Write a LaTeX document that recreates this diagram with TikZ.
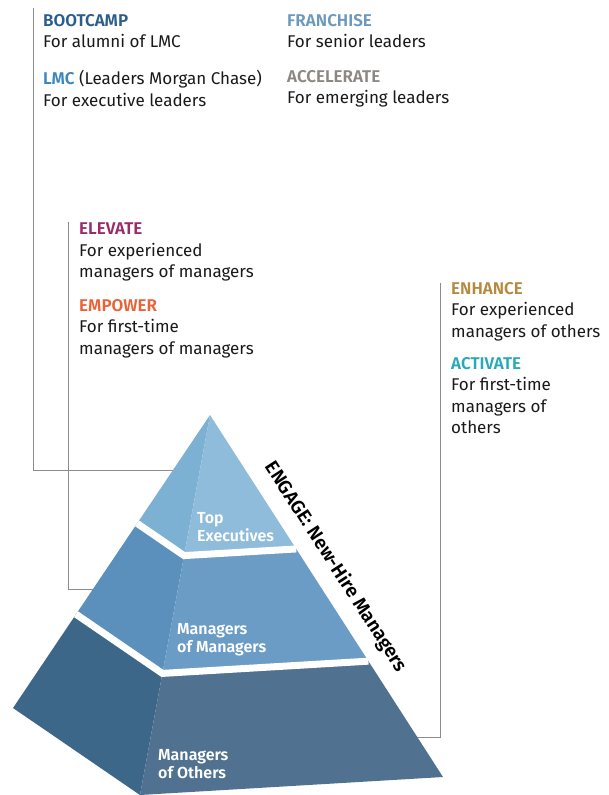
\documentclass[tikz,border=0pt]{standalone}
\usepackage{fontspec}
\setmainfont{Fira Sans}[BoldFont={Fira Sans SemiBold}]
\usepackage{tikz}
\usetikzlibrary{positioning}
\usetikzlibrary{calc}

\definecolor{bootblue}{HTML}{2A5D8C}
\definecolor{lmcblue}{HTML}{3A86BE}
\definecolor{franblue}{HTML}{6B98BC}
\definecolor{accgray}{HTML}{8C8781}
\definecolor{elevred}{HTML}{9C2A67}
\definecolor{emporange}{HTML}{EA6237}
\definecolor{enhgold}{HTML}{B5893F}
\definecolor{actteal}{HTML}{27A9B7}
\definecolor{topleft}{HTML}{7DB1D3}
\definecolor{topfront}{HTML}{8EBCDA}
\definecolor{midleft}{HTML}{5A90BB}
\definecolor{midfront}{HTML}{6A9CC6}
\definecolor{lowleft}{HTML}{3D6789}
\definecolor{lowfront}{HTML}{50718F}

\tikzset{block/.style={anchor=north west,inner sep=0pt,align=left,text=black!90,font=\fontsize{17}{21.5}\selectfont}}
\tikzset{tier/.style={anchor=north west,inner sep=0pt,align=left,text=white,font=\bfseries\fontsize{16}{18}\selectfont}}
\tikzset{engage/.style={anchor=base,inner sep=0pt,rotate=-57.2,font=\bfseries\fontsize{19}{22}\selectfont}}
\tikzset{leader/.style={draw=black!45,line width=1pt}}
\tikzset{gap/.style={draw=white,line width=7pt,line join=miter}}
\newcommand{\hd}[2]{\textbf{\color{#1}#2}}

\begin{document}
\begin{tikzpicture}[x=1pt,y=-1pt]
        \useasboundingbox (0,0) rectangle (609,795);
        % corners of the pyramid
        \coordinate (apex) at (210,415);
        \coordinate (bl) at (13,708);
        \coordinate (bf) at (140,795);
        \coordinate (br) at (443,777);
        \foreach \t/\n in {0.37/1,0.68/2}{
            \coordinate (l\n) at ($(apex)!\t!(bl)$);
            \coordinate (f\n) at ($(apex)!\t!(bf)$);
            \coordinate (r\n) at ($(apex)!\t!(br)$);
        }
        % leader lines, drawn under the pyramid
        \coordinate (leadone) at (33,8);
        \coordinate (leadtwo) at (68,222);
        \coordinate (leadthree) at (440,283);
        \coordinate (hitone) at (185,470);
        \coordinate (hittwo) at (110,589);
        \coordinate (hitthree) at (400,737);
            \path[leader] (leadone) |- (hitone);
            \path[leader] (leadtwo) |- (hittwo);
            \path[leader] (leadthree) |- (hitthree);
        % faces, tier by tier
        \fill[topleft] (apex) -- (l1) -- (f1) -- cycle;
        \fill[topfront] (apex) -- (f1) -- (r1) -- cycle;
        \fill[midleft] (l1) -- (l2) -- (f2) -- (f1) -- cycle;
        \fill[midfront] (f1) -- (f2) -- (r2) -- (r1) -- cycle;
        \fill[lowleft] (l2) -- (bl) -- (bf) -- (f2) -- cycle;
        \fill[lowfront] (f2) -- (bf) -- (br) -- (r2) -- cycle;
            \path[gap] (l1) -- (f1) -- (r1);
            \path[gap] (l2) -- (f2) -- (r2);
        \node[tier] (topexec) at (197,512) {Top\\Executives};
        \node[tier] (mgrmgr) at (177,623) {Managers\\of Managers};
        \node[tier] (mgroth) at (158,749) {Managers\\of Others};
        \coordinate (edgemid) at ($(apex)!0.455!(br)$);
        \node[engage] (newhire) at ($(edgemid)!18pt!90:(br)$) {ENGAGE: New-Hire Managers};
        % programmes
        \node[block] (bootcamp) at (43,14) {\hd{bootblue}{BOOTCAMP}\\For alumni of LMC};
        \node[block] (lmc) at (43,70) {\hd{lmcblue}{LMC} (Leaders Morgan Chase)\\For executive leaders};
        \node[block] (franchise) at (287,14) {\hd{franblue}{FRANCHISE}\\For senior leaders};
        \node[block] (accelerate) at (287,70) {\hd{accgray}{ACCELERATE}\\For emerging leaders};
        \node[block] (elevate) at (79,223) {\hd{elevred}{ELEVATE}\\For experienced\\managers of managers};
        \node[block] (empower) at (79,299) {\hd{emporange}{EMPOWER}\\For first-time\\managers of managers};
        \node[block] (enhance) at (451,282) {\hd{enhgold}{ENHANCE}\\For experienced\\managers of others};
        \node[block] (activate) at (451,357) {\hd{actteal}{ACTIVATE}\\For first-time\\managers of\\others};
    \end{tikzpicture}
\end{document}
